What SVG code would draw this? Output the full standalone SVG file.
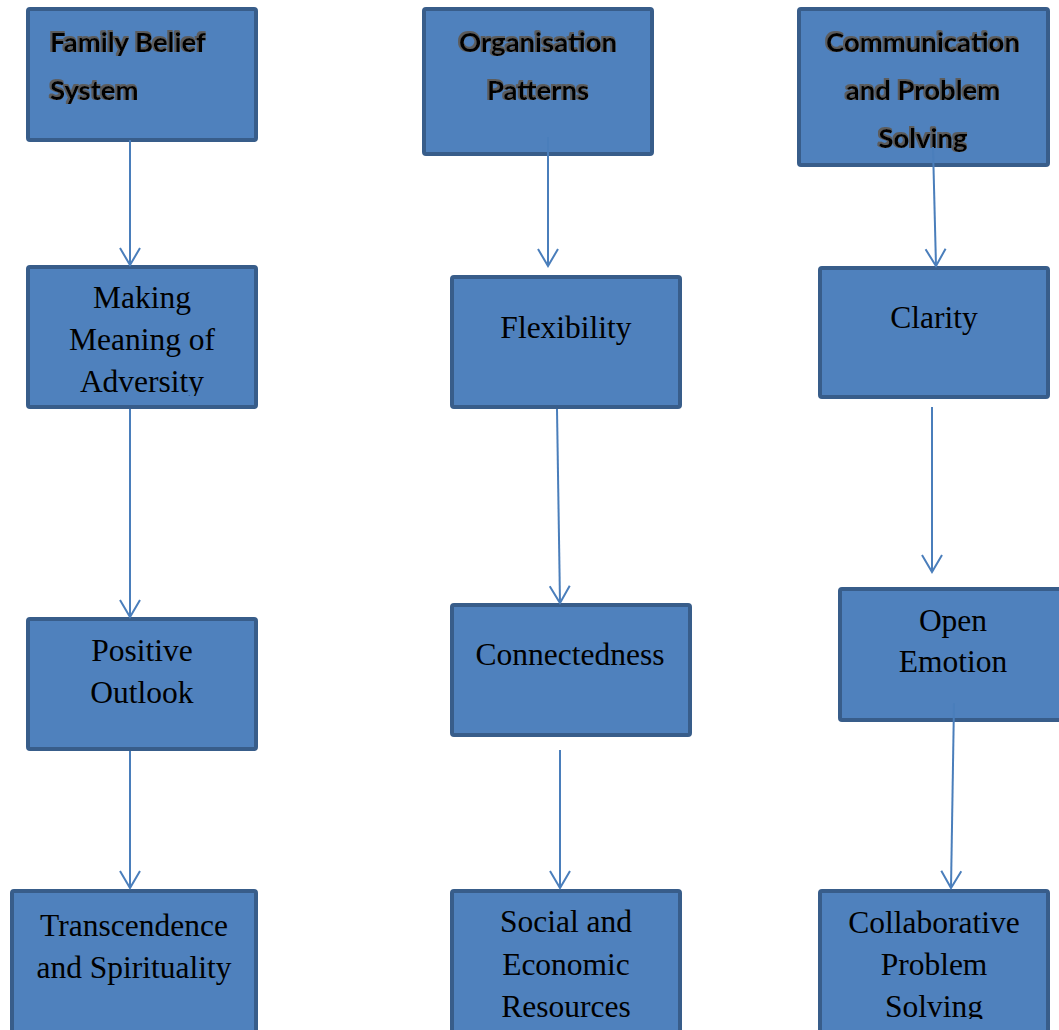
<svg xmlns="http://www.w3.org/2000/svg" width="1059" height="1030" viewBox="0 0 1059 1030">
<style>
.box{fill:#4F81BD;stroke:#385D8A;stroke-width:4}
.hd{font-family:Lato,"Open Sans",sans-serif;font-weight:bold;font-size:27.5px;fill:#000}
.tx{font-family:"Liberation Serif","Times New Roman",serif;font-size:31.5px;fill:#000}
.c{text-anchor:middle}
.conn{stroke:#4A7EBB;stroke-width:2;fill:none}
</style>
<defs>
<marker id="arr" markerUnits="userSpaceOnUse" markerWidth="24" markerHeight="24" viewBox="-20 -12 24 24" refX="0" refY="0" orient="auto" overflow="visible">
<path d="M-17,-10 L0,0 L-17,10" fill="none" stroke="#4A7EBB" stroke-width="2"/>
</marker>
<filter id="glow" x="-10%" y="-30%" width="120%" height="160%">
<feMorphology in="SourceAlpha" operator="dilate" radius="1.2" result="d"/>
<feOffset in="d" dx="-1" dy="-1.5" result="o"/>
<feGaussianBlur in="o" stdDeviation="0.6" result="b"/>
<feFlood flood-color="#5c5c5c"/>
<feComposite in2="b" operator="in" result="g"/>
<feMerge><feMergeNode in="g"/><feMergeNode in="SourceGraphic"/></feMerge>
</filter>
<clipPath id="clipAdv"><rect x="0" y="0" width="1059" height="396"/></clipPath>
<clipPath id="clipSolv"><rect x="0" y="0" width="1059" height="1019"/></clipPath>
</defs>

<g id="family-belief-system">
<rect class="box" x="28" y="9" width="228" height="131" rx="2"/>
<text class="hd" filter="url(#glow)"><tspan x="50" y="52">Family Belief</tspan><tspan x="50" y="100">System</tspan></text>
</g>
<g id="making-meaning">
<rect class="box" x="28" y="267" width="228" height="140" rx="2"/>
<text class="tx c" clip-path="url(#clipAdv)"><tspan x="142" y="308">Making</tspan><tspan x="142" y="350">Meaning of</tspan><tspan x="142" y="392">Adversity</tspan></text>
</g>
<g id="positive-outlook">
<rect class="box" x="28" y="619" width="228" height="130" rx="2"/>
<text class="tx c"><tspan x="142" y="661">Positive</tspan><tspan x="142" y="703">Outlook</tspan></text>
</g>
<g id="transcendence">
<rect class="box" x="12" y="891" width="244" height="150" rx="2"/>
<text class="tx c"><tspan x="134" y="936">Transcendence</tspan><tspan x="134" y="978">and Spirituality</tspan></text>
</g>

<g id="organisation-patterns">
<rect class="box" x="424" y="9" width="228" height="145" rx="2"/>
<text class="hd c" filter="url(#glow)"><tspan x="538" y="52">Organisation</tspan><tspan x="538" y="100">Patterns</tspan></text>
</g>
<g id="flexibility">
<rect class="box" x="452" y="277" width="228" height="130" rx="2"/>
<text class="tx c" x="566" y="338">Flexibility</text>
</g>
<g id="connectedness">
<rect class="box" x="452" y="605" width="238" height="130" rx="2"/>
<text class="tx c" x="570" y="665">Connectedness</text>
</g>
<g id="social-economic">
<rect class="box" x="452" y="891" width="228" height="150" rx="2"/>
<text class="tx c"><tspan x="566" y="932">Social and</tspan><tspan x="566" y="975">Economic</tspan><tspan x="566" y="1017">Resources</tspan></text>
</g>

<g id="communication">
<rect class="box" x="799" y="9" width="249" height="156" rx="2"/>
<text class="hd c" filter="url(#glow)"><tspan x="923" y="52">Communication</tspan><tspan x="923" y="100">and Problem</tspan><tspan x="923" y="148">Solving</tspan></text>
</g>
<g id="clarity">
<rect class="box" x="820" y="268" width="228" height="129" rx="2"/>
<text class="tx c" x="934" y="328">Clarity</text>
</g>
<g id="open-emotion">
<rect class="box" x="840" y="589" width="240" height="131" rx="2"/>
<text class="tx c"><tspan x="953" y="631">Open</tspan><tspan x="953" y="672">Emotion</tspan></text>
</g>
<g id="collaborative">
<rect class="box" x="820" y="891" width="228" height="150" rx="2"/>
<text class="tx c" clip-path="url(#clipSolv)"><tspan x="934" y="933">Collaborative</tspan><tspan x="934" y="975">Problem</tspan><tspan x="934" y="1017">Solving</tspan></text>
</g>

<g id="connectors">
<line class="conn" x1="130" y1="140" x2="130" y2="265" marker-end="url(#arr)"/>
<line class="conn" x1="130" y1="409" x2="130" y2="617" marker-end="url(#arr)"/>
<line class="conn" x1="130" y1="751" x2="130" y2="888" marker-end="url(#arr)"/>
<line class="conn" x1="548" y1="137" x2="548" y2="266" marker-end="url(#arr)"/>
<line class="conn" x1="557" y1="409" x2="560" y2="603" marker-end="url(#arr)"/>
<line class="conn" x1="560" y1="750" x2="560" y2="888" marker-end="url(#arr)"/>
<line class="conn" x1="933" y1="147" x2="936" y2="266" marker-end="url(#arr)"/>
<line class="conn" x1="932" y1="407" x2="932" y2="572" marker-end="url(#arr)"/>
<line class="conn" x1="954" y1="703" x2="951" y2="888" marker-end="url(#arr)"/>
</g>
</svg>
